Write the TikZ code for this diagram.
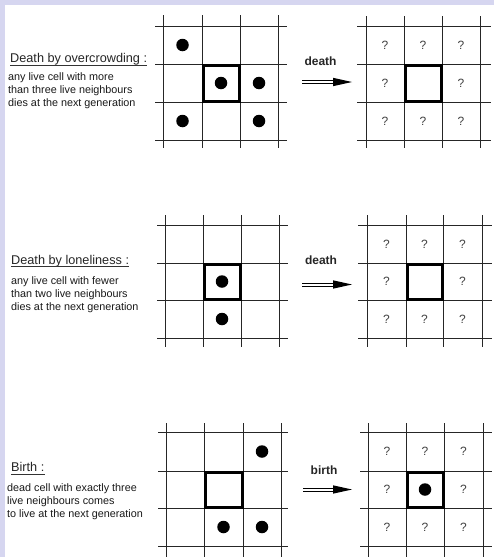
\documentclass[tikz,border=0pt]{standalone}
\usepackage{fontspec}
\setmainfont{Liberation Sans}
\definecolor{lav}{RGB}{214,214,240}
\newcommand\lifegrid[6]{%
  \foreach \gx in {#1} \draw[gridline] (\gx,#5) -- (\gx,#6);
  \foreach \gy in {#2} \draw[gridline] (#3,\gy) -- (#4,\gy);
}
\newcommand\dblarrow[4]{% name, x1, x2, y
  \coordinate (#1s) at (#2,#4);
  \coordinate (#1e) at (#3,#4);
  \draw[arrline] ([yshift=1.6pt]#1s) -- ([xshift=-15pt,yshift=1.6pt]#1e);
  \draw[arrline] ([yshift=-1.6pt]#1s) -- ([xshift=-15pt,yshift=-1.6pt]#1e);
  \fill (#1e) -- ([xshift=-19pt,yshift=4.2pt]#1e) -- ([xshift=-19pt,yshift=-4.2pt]#1e) -- cycle;
}
\begin{document}
\begin{tikzpicture}[x=1pt,y=-1pt,
  gridline/.style={line width=1pt, draw=black!85},
  focus/.style={line width=3pt, draw=black},
  live/.style={circle, fill=black, inner sep=0pt, minimum size=12.5pt},
  unk/.style={font=\fontsize{12}{14}\selectfont, text=black!75, inner sep=0pt},
  ttl/.style={anchor=base west, inner sep=0pt, font=\fontsize{12.7}{14}\selectfont, text=black!85},
  body/.style={anchor=base west, inner sep=0pt, font=\fontsize{10.8}{13}\selectfont, text=black!90},
  rulelabel/.style={font=\bfseries\fontsize{12}{14}\selectfont, text=black!85, inner sep=0pt},
  arrline/.style={line width=0.8pt},
  uline/.style={line width=0.7pt, draw=black!80}]
\useasboundingbox (0,0) rectangle (494,557);
\fill[white] (0,0) rectangle (494,557);
\fill[lav] (0,0) rectangle (4.5,557);
\fill[lav] (0,0) rectangle (494,5);

% ---------- Section 1: overcrowding ----------
\node[ttl] (t1) at (10,62.5) {Death by overcrowding :};
\draw[uline] ([yshift=-2.6pt]t1.base west) -- ([yshift=-2.6pt]t1.base east);
\node[body] (b1a) at (8,80) {any live cell with more};
\node[body] (b1b) at (8,93) {than three live neighbours};
\node[body] (b1c) at (8,106) {dies at the next generation};

\lifegrid{163,202,240,278}{26,64,102,140}{155}{287}{15}{148}
\draw[focus] (203,65) rectangle (239,101);
\node[live] (s1d1) at (182.5,45) {};
\node[live] (s1d2) at (221,83) {};
\node[live] (s1d3) at (259,83) {};
\node[live] (s1d4) at (182.5,121) {};
\node[live] (s1d5) at (259,121) {};

\node[rulelabel] (l1) at (320.5,61) {death};
\dblarrow{a1}{302}{352}{82}

\lifegrid{366,404,442,480}{26,64,102,140}{357}{491}{16}{148}
\draw[focus] (405,65) rectangle (441,101);
\foreach \i/\cx/\cy in {1/385/45,2/423/45,3/461/45,4/385/83,5/461/83,6/385/121,7/423/121,8/461/121}
  \node[unk] (s1q\i) at (\cx,\cy) {?};

% ---------- Section 2: loneliness ----------
\node[ttl] (t2) at (11,264) {Death by loneliness :};
\draw[uline] ([yshift=-2.6pt]t2.base west) -- ([yshift=-2.6pt]t2.base east);
\node[body] (b2a) at (11,284) {any live cell with fewer};
\node[body] (b2b) at (11,297) {than two live neighbours};
\node[body] (b2c) at (11,310) {dies at the next generation};

\lifegrid{165,203,241,279}{225,263,300,338}{157}{288}{215}{347}
\draw[focus] (204,264) rectangle (240,299);
\node[live] (s2d1) at (222,281.5) {};
\node[live] (s2d2) at (222,319) {};

\node[rulelabel] (l2) at (321,260) {death};
\dblarrow{a2}{302}{352}{284.5}

\lifegrid{367,406,443,482}{225,263,300,338}{358}{492}{215}{347}
\draw[focus] (407,264) rectangle (442,299);
\foreach \i/\cx/\cy in {1/386.5/244,2/424.5/244,3/462.5/244,4/386.5/281.5,5/462.5/281.5,6/386.5/319,7/424.5/319,8/462.5/319}
  \node[unk] (s2q\i) at (\cx,\cy) {?};

% ---------- Section 3: birth ----------
\node[ttl] (t3) at (11,471.5) {Birth :};
\draw[uline] ([yshift=-2.6pt]t3.base west) -- ([yshift=-2.6pt]t3.base east);
\node[body] (b3a) at (7,491) {dead cell with exactly three};
\node[body] (b3b) at (7,504.5) {live neighbours comes};
\node[body] (b3c) at (7,517.5) {to live at the next generation};

\lifegrid{166,204,243,281}{432,471,508,546}{158}{288}{423}{557}
\draw[focus] (205,472) rectangle (242,507);
\node[live] (s3d1) at (262,451.5) {};
\node[live] (s3d2) at (223.5,527) {};
\node[live] (s3d3) at (262,527) {};

\node[rulelabel] (l3) at (324,470) {birth};
\dblarrow{a3}{303}{352}{489.5}

\lifegrid{368,406,444,483}{432,471,508,546}{360}{492}{423}{557}
\draw[focus] (407,472) rectangle (443,507);
\node[live] (s3d4) at (425,489.5) {};
\foreach \i/\cx/\cy in {1/387/451.5,2/425/451.5,3/463.5/451.5,4/387/489.5,5/463.5/489.5,6/387/527,7/425/527,8/463.5/527}
  \node[unk] (s3q\i) at (\cx,\cy) {?};
\end{tikzpicture}
\end{document}
